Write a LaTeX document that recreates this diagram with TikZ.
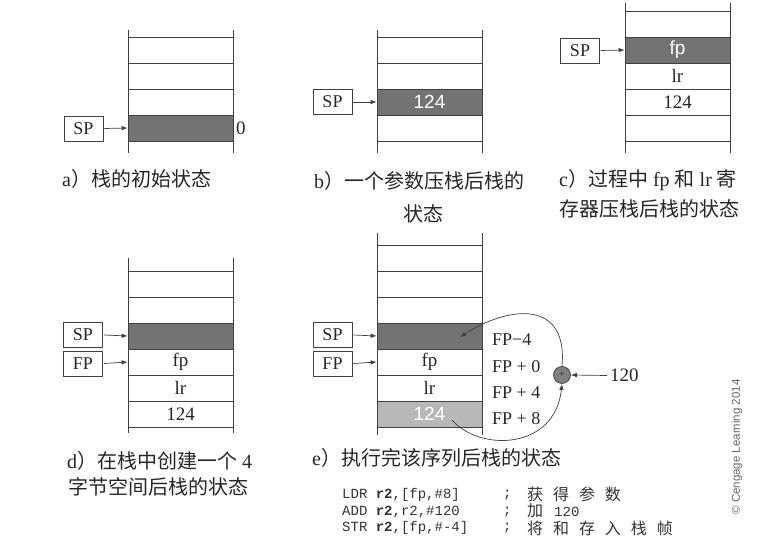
\documentclass[tikz,border=0pt]{standalone}
\usepackage{fontspec}
\setmainfont{Liberation Serif}
\setsansfont{Liberation Sans}
\setmonofont{Liberation Mono}
\newfontfamily\cjk{Noto Sans CJK SC}
\newfontfamily\cjkw{Noto Sans CJK SC}[LetterSpace=62]
\usetikzlibrary{arrows.meta}
\tikzset{
  cell/.style={draw=black!75, line width=0.7pt, minimum width=105pt, minimum height=26pt, inner sep=0pt, text=black!85, font=\fontsize{19}{19}\selectfont},
  darkcell/.style={cell, fill=black!55},
  lightcell/.style={cell, fill=black!28},
  reg/.style={draw=black!75, line width=0.7pt, minimum width=39pt, minimum height=25pt, inner sep=0pt, text=black!85, font=\fontsize{18}{18}\selectfont},
  ptr/.style={-{Latex[length=6pt,width=4.5pt]}, draw=black!75, line width=0.7pt},
  vline/.style={draw=black!75, line width=0.7pt},
  capt/.style={anchor=west, inner sep=0pt, text=black!85, font=\fontsize{20}{20}\selectfont},
  offs/.style={anchor=west, inner sep=0pt, text=black!85, font=\fontsize{18}{18}\selectfont},
  code/.style={anchor=west, inner sep=0pt, text=black!80, font=\ttfamily\fontsize{14}{14}\selectfont},
  cmt/.style={anchor=west, inner sep=0pt, text=black!80, font=\cjkw\fontsize{16}{16}\selectfont}
}
\begin{document}
\begin{tikzpicture}[x=1pt,y=-1pt]
\useasboundingbox (0,0) rectangle (772,556);

% ---------- panel a ----------
\draw[vline] (128,30) -- (128,153);
\draw[vline] (233,30) -- (233,153);
\node[cell] (a1) at (180.5,50) {};
\node[cell] (a2) at (180.5,76) {};
\node[cell] (a3) at (180.5,102) {};
\node[darkcell] (a4) at (180.5,128) {};
\node[anchor=west, inner sep=0pt, text=black!85, font=\fontsize{19}{19}\selectfont] (zero) at (236,128) {0};
\node[reg] (spa) at (83.5,128.5) {SP};
\draw[ptr] ([xshift=1pt]spa.east) -- (a4.west);
\node[capt] (capa) at (62,179) {a{\cjk ）栈的初始状态}};

% ---------- panel b ----------
\draw[vline] (377,30) -- (377,153);
\draw[vline] (482,30) -- (482,153);
\node[cell] (b1) at (429.5,50) {};
\node[cell] (b2) at (429.5,76) {};
\node[darkcell] (b3) at (429.5,102) {\textcolor{white}{\sffamily 124}};
\node[cell] (b4) at (429.5,128) {};
\node[reg] (spb) at (332.5,102) {SP};
\draw[ptr] ([xshift=1pt]spb.east) -- (b3.west);
\node[capt] (capb) at (314,181) {b{\cjk ）一个参数压栈后栈的}};
\node[capt, anchor=center] (capb2) at (423,214) {\cjk 状态};

% ---------- panel c ----------
\draw[vline] (625,3) -- (625,153);
\draw[vline] (730,3) -- (730,153);
\node[cell] (c1) at (677.5,24) {};
\node[darkcell] (c2) at (677.5,50) {\textcolor{white}{\sffamily fp}};
\node[cell] (c3) at (677.5,76) {lr};
\node[cell] (c4) at (677.5,102) {124};
\node[cell] (c5) at (677.5,128) {};
\node[reg] (spc) at (580,50.5) {SP};
\draw[ptr] ([xshift=1pt]spc.east) -- (c2.west);
\node[capt] (capc) at (559,180) {c{\cjk ）过程中} fp {\cjk 和} lr {\cjk 寄}};
\node[capt] (capc2) at (559,209) {\cjk 存器压栈后栈的状态};

% ---------- panel d ----------
\draw[vline] (128,258) -- (128,433);
\draw[vline] (233,258) -- (233,433);
\node[cell] (d1) at (180.5,284) {};
\node[cell] (d2) at (180.5,310) {};
\node[darkcell] (d3) at (180.5,336) {};
\node[cell] (d4) at (180.5,362) {fp};
\node[cell] (d5) at (180.5,388) {lr};
\node[cell] (d6) at (180.5,414) {124};
\node[reg] (spd) at (83,335) {SP};
\node[reg] (fpd) at (83,363.5) {FP};
\draw[ptr] ([xshift=1pt]spd.east) -- (d3.west);
\draw[ptr] ([xshift=1pt]fpd.east) -- (d4.west);
\node[capt] (capd) at (67,461) {d{\cjk ）在栈中创建一个} 4};
\node[capt] (capd2) at (68,487) {\cjk 字节空间后栈的状态};

% ---------- panel e ----------
\draw[vline] (377,233) -- (377,435);
\draw[vline] (482,233) -- (482,435);
\node[cell] (e0) at (429.5,258) {};
\node[cell] (e1) at (429.5,284) {};
\node[cell] (e2) at (429.5,310) {};
\node[darkcell] (e3) at (429.5,336) {};
\node[cell] (e4) at (429.5,362) {fp};
\node[cell] (e5) at (429.5,388) {lr};
\node[lightcell] (e6) at (429.5,414) {\textcolor{white}{\sffamily 124}};
\node[reg] (spe) at (332.5,335) {SP};
\node[reg] (fpe) at (332.5,363.5) {FP};
\draw[ptr] ([xshift=1pt]spe.east) -- (e3.west);
\draw[ptr] ([xshift=1pt]fpe.east) -- (e4.west);
\node[offs] (o1) at (492,340) {FP−4};
\node[offs] (o2) at (492,367) {FP + 0};
\node[offs] (o3) at (492,393) {FP + 4};
\node[offs] (o4) at (492,419) {FP + 8};
\node[circle, draw=black!75, fill=black!50, minimum size=17pt, inner sep=0pt, line width=0.7pt, font=\fontsize{10}{10}\selectfont, text=black!85] (plus) at (562,375) {+};
\node[anchor=west, inner sep=0pt, text=black!85, font=\fontsize{19}{19}\selectfont] (n120) at (610,375.5) {120};
\draw[ptr] ([xshift=-3pt]n120.west) -- (plus.east);
\coordinate (src) at (452,420);
\coordinate (dst) at (460,337);
\draw[ptr] (src) .. controls (480,452) and (555,450) .. (plus.south);
\draw[ptr] (plus.north) .. controls (568,300) and (510,305) .. (dst);
\node[capt] (cape) at (312,458) {e{\cjk ）执行完该序列后栈的状态}};

\node[code] (l1) at (342,495) {LDR \textbf{r2},[fp,\#8]};
\node[code] (l2) at (342,512) {ADD \textbf{r2},r2,\#120};
\node[code] (l3) at (342,528) {STR \textbf{r2},[fp,\#-4]};
\node[code] (s1) at (503,495) {;};
\node[code] (s2) at (503,512) {;};
\node[code] (s3) at (503,528) {;};
\node[cmt] (c1t) at (527,494) {获得参数};
\node[cmt] (c2t) at (527,511) {加};
\node[code] (c2n) at (554,512) {120};
\node[cmt] (c3t) at (527,528) {将和存入栈帧};

\node[rotate=90, inner sep=0pt, text=black!60, font=\sffamily\fontsize{11.5}{11.5}\selectfont] (copy) at (737,447) {© Cengage Learning 2014};
\end{tikzpicture}
\end{document}
